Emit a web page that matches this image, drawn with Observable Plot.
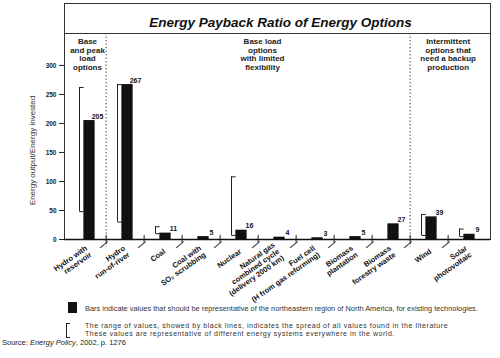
<!DOCTYPE html>
<html><head><meta charset="utf-8">
<script src="https://cdn.jsdelivr.net/npm/d3@7"></script>
<script src="https://cdn.jsdelivr.net/npm/@observablehq/plot@0.6"></script>
<style>
body{margin:0;background:#fff;font-family:"Liberation Sans",Arial,sans-serif;color:#222;}
#wrap{position:relative;width:500px;height:358px;overflow:hidden;background:#fff}
#wrap svg{position:absolute;left:0;top:0;overflow:visible}
.lg{position:absolute;white-space:nowrap;color:#333}
#sq{position:absolute;left:68px;top:302px;width:9px;height:11px;background:#111}
#br{position:absolute;left:66px;top:323px;width:3px;height:13px;border:1.5px solid #222;border-right:none}
#t1{left:85px;top:304px;font-size:7.4px}
#t2{left:85px;top:322px;font-size:7px;line-height:7.5px;letter-spacing:0.55px}
#src{left:2px;top:338px;font-size:7.5px;color:#222}
</style></head><body><div id="wrap">
<div id="sq"></div><div id="br"></div>
<div class="lg" id="t1">Bars indicate values that should be representative of the northeastern region of North America, for existing technologies.</div>
<div class="lg" id="t2">The range of values, showed by black lines, indicates the spread of all values found in the literature<br>These values are representative of different energy systems everywhere in the world.</div>
<div class="lg" id="src">Source: <i>Energy Policy</i>, 2002, p. 1276</div>
</div>
<script>
const categories = ["Hydro with reservoir","Hydro run-of-river","Coal","Coal with SO2 scrubbing","Nuclear","Natural gas combined cycle","Fuel cell","Biomass plantation","Biomass forestry waste","Wind","Solar photovoltaic"];
const tickLabels = ["Hydro with\nreservoir","Hydro\nrun-of-river","Coal","Coal with\nSO\u2082 scrubbing","Nuclear","Natural gas\ncombined cycle\n(delivery 2000 km)","Fuel cell\n(H from gas reforming)","Biomass\nplantation","Biomass\nforestry waste","Wind","Solar\nphotovoltaic"];
const values = [205,267,11,5,16,4,3,5,27,39,9];
const rangeCats = ["Hydro with reservoir","Hydro run-of-river","Coal","Nuclear","Wind","Solar photovoltaic"];
const rangeLow = [48,30,10,7,7,5];
const rangeHigh = [262,267,22,108,43,18];
const yTicks = [0,50,100,150,200,250,300];
const groupLabels = ["Base\nand peak\nload\noptions","Base load\noptions\nwith limited\nflexibility","Intermittent\noptions that\nneed a backup\nproduction"];
const groupCats = ["Hydro with reservoir","Natural gas combined cycle","Solar photovoltaic"];
const separatorCats = ["Hydro run-of-river","Wind"];
const title = "Energy Payback Ratio of Energy Options";
const yLabel = "Energy output/Energy invested";

const W = 500, H = 298, mL = 64, mR = 10, mT = 33, mB = 59;
const bw = (W - mL - mR) / categories.length;
const bars = categories.map((c,i)=>({cat:c, value:values[i], label:tickLabels[i]}));
const ranges = rangeCats.map((c,i)=>({cat:c, lo:rangeLow[i], hi:rangeHigh[i]}));
const groups = groupLabels.map((g,i)=>({cat:groupCats[i], label:g}));
const font = "'Liberation Sans', Arial, sans-serif";
const hdr = {frameAnchor: "top", lineAnchor: "top", textAnchor: "middle", dy: 5, fontSize: 8, fontWeight: "bold", lineHeight: 1.05, fill: "#222"};

const chart = Plot.plot({
  width: W, height: H, marginLeft: mL, marginRight: mR, marginTop: mT, marginBottom: mB,
  style: {fontFamily: font, background: "transparent", color: "#222", overflow: "visible"},
  x: {type: "band", domain: categories, padding: 0, axis: null},
  y: {domain: [0, 355]},
  marks: [
    Plot.frame({insetTop: -30, stroke: "#333", strokeWidth: 1}),
    Plot.frame({stroke: "#333", strokeWidth: 1}),
    Plot.ruleX(separatorCats, {x: d=>d, dx: -bw/2, stroke: "#333", strokeDasharray: "1.3,2.2", insetBottom: -8}),
    Plot.ruleX(categories.slice(1), {x: d=>d, y1: -7, y2: 7, dx: -bw/2, stroke: "#222"}),
    Plot.text(categories.slice(1), {x: d=>d, frameAnchor: "bottom", text: ()=>"/", dx: -bw/2-5, dy: 9, fontSize: 13, rotate: 35, fill: "#444"}),
    Plot.ruleX(ranges, {x: "cat", y1: "lo", y2: "hi", dx: -8, stroke: "#222", strokeWidth: 1}),
    Plot.tickY(ranges, {x: "cat", y: "lo", insetLeft: bw/2-8, insetRight: bw/2+3, stroke: "#222"}),
    Plot.tickY(ranges, {x: "cat", y: "hi", insetLeft: bw/2-8, insetRight: bw/2+3, stroke: "#222"}),
    Plot.barY(bars, {x: "cat", y: "value", fill: "#111", insetLeft: bw/2-4, insetRight: bw/2-8}),
    Plot.ruleY([0], {stroke: "#111", strokeWidth: 1.6}),
    Plot.text(bars, {x: "cat", y: "value", text: d=>String(d.value), dx: 10, dy: -2, lineAnchor: "bottom", fontSize: 7, fontWeight: "bold", fill: "#111"}),
    Plot.axisY(yTicks, {tickSize: 5, tickPadding: 3, fontSize: 6.5, fontWeight: "bold", label: null}),
    Plot.text([yLabel], {text: d=>d, frameAnchor: "left", textAnchor: "middle", rotate: -90, dx: -32, dy: 14, fontSize: 8, fill: "#333"}),
    Plot.text([title], {text: d=>d, frameAnchor: "top", textAnchor: "middle", dy: -16, dx: 3, fontSize: 13.5, fontWeight: "bold", fontStyle: "italic", fill: "#111"}),
    Plot.text(groups.slice(0,1), {x: "cat", text: "label", ...hdr}),
    Plot.text(groups.slice(1,2), {x: "cat", text: "label", ...hdr, dx: -15}),
    Plot.text(groups.slice(2,3), {x: "cat", text: "label", ...hdr, dx: -bw/2}),
    Plot.text(bars, {x: "cat", text: "label", frameAnchor: "bottom", rotate: -35, textAnchor: "end", lineAnchor: "middle", dy: 11, dx: 1, fontSize: 7.5, fontWeight: "bold", lineHeight: 1.05, fill: "#111", ariaLabel: "catlab"})
  ]
});
document.getElementById("wrap").prepend(chart);
d3.select(chart).selectAll('g[aria-label="catlab"] text').each(function(){
  d3.select(this).selectAll("tspan").each(function(){
    if (this.textContent.startsWith("(")) this.setAttribute("font-size", "6");
  });
  const w = this.getBBox().width;
  const t = this.getAttribute("transform") || "";
  this.setAttribute("text-anchor", "middle");
  this.setAttribute("transform", t + ` translate(${-w/2},0)`);
});
</script>
</body></html>
